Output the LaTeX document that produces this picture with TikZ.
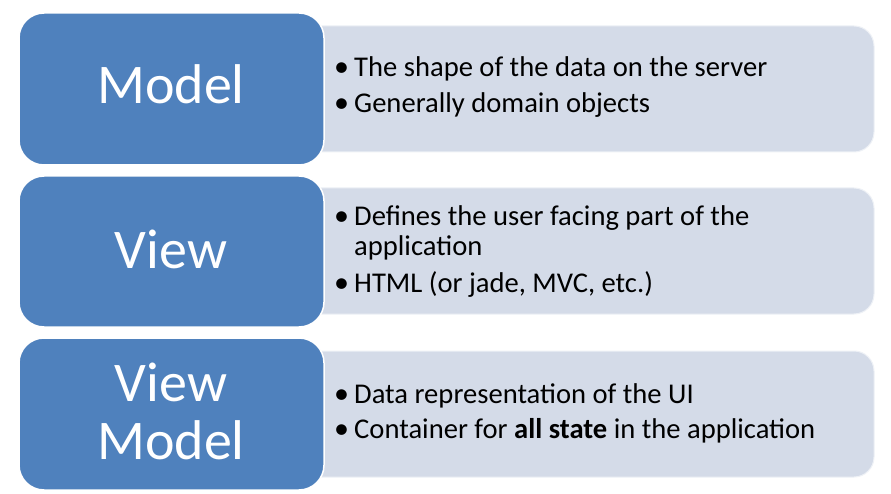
\documentclass[tikz,border=0pt]{standalone}
\usepackage{fontspec}
\setmainfont{Carlito}
\definecolor{mvblue}{HTML}{4F81BD}
\definecolor{mvlight}{HTML}{D4DBE8}
\begin{document}
\begin{tikzpicture}[x=1pt,y=-1pt,
  bluebox/.style={fill=mvblue,draw=white,line width=1.5pt,rounded corners=25pt},
  lightbox/.style={fill=mvlight,draw=white!60!mvlight,line width=1pt,rounded corners=20pt},
  title/.style={text=white,font=\fontsize{56}{60}\selectfont,anchor=base,inner sep=0pt},
  item/.style={text=black,font=\fontsize{28.6}{31}\selectfont,anchor=base west,inner sep=0pt},
  bul/.style={text=black,font=\fontsize{30}{31}\selectfont,anchor=base west,inner sep=0pt}]
\useasboundingbox[fill=white] (0,0) rectangle (891,494);
% row 1
\path[lightbox] (300,26) rectangle (874,152);
\path[bluebox] (19,13) rectangle (324,165);
\node[title] (t1) at (171,104) {Model};
\node[bul] (b1a) at (334,77) {\textbullet};
\node[item] (i1a) at (354,77) {The shape of the data on the server};
\node[bul] (b1b) at (334,113) {\textbullet};
\node[item] (i1b) at (354,113) {Generally domain objects};
% row 2
\path[lightbox] (300,188) rectangle (874,314);
\path[bluebox] (19,176) rectangle (324,327);
\node[title] (t2) at (171,269) {View};
\node[bul] (b2a) at (334,226) {\textbullet};
\node[item] (i2a) at (354,226) {Defines the user facing part of the};
\node[item] (i2b) at (354,255) {application};
\node[bul] (b2c) at (334,292) {\textbullet};
\node[item] (i2c) at (354,292) {HTML (or jade, MVC, etc.)};
% row 3
\path[lightbox] (300,351) rectangle (874,477);
\path[bluebox] (19,338) rectangle (324,490);
\node[title] (t3a) at (171,401) {View};
\node[title] (t3b) at (171,459) {Model};
\node[bul] (b3a) at (334,403) {\textbullet};
\node[item] (i3a) at (354,403) {Data representation of the UI};
\node[bul] (b3b) at (334,438) {\textbullet};
\node[item] (i3b) at (354,438) {Container for \textbf{all state} in the application};
\end{tikzpicture}
\end{document}
